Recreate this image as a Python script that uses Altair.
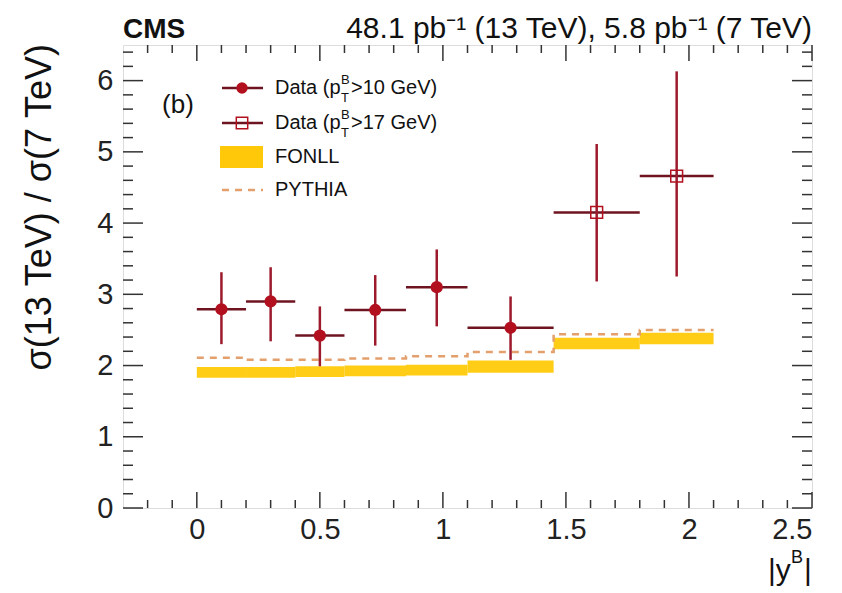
import altair as alt
import pandas as pd

# |y^B| bins and measured 13 TeV / 7 TeV cross-section ratios
bin_lo = [0.0, 0.2, 0.4, 0.6, 0.85, 1.1, 1.45, 1.8]
bin_hi = [0.2, 0.4, 0.6, 0.85, 1.1, 1.45, 1.8, 2.1]
ratio = [2.79, 2.90, 2.42, 2.78, 3.10, 2.53, 4.15, 4.66]
ratio_lo = [2.30, 2.34, 1.99, 2.28, 2.55, 2.08, 3.18, 3.25]
ratio_hi = [3.31, 3.38, 2.83, 3.27, 3.63, 2.97, 5.11, 6.13]
pt_cut = ["10", "10", "10", "10", "10", "10", "17", "17"]

# theory predictions per bin
fonll_lo = [1.83, 1.83, 1.84, 1.85, 1.86, 1.90, 2.23, 2.30]
fonll_hi = [1.98, 1.98, 1.99, 2.00, 2.01, 2.07, 2.39, 2.46]
pythia = [2.11, 2.08, 2.08, 2.10, 2.13, 2.19, 2.44, 2.50]

# axis ticks
x_major = [0, 0.5, 1, 1.5, 2, 2.5]
x_minor = [-0.2, -0.1, 0.1, 0.2, 0.3, 0.4, 0.6, 0.7, 0.8, 0.9, 1.1, 1.2, 1.3,
           1.4, 1.6, 1.7, 1.8, 1.9, 2.1, 2.2, 2.3, 2.4]
y_major = [0, 1, 2, 3, 4, 5, 6]
y_minor = [0.2, 0.4, 0.6, 0.8, 1.2, 1.4, 1.6, 1.8, 2.2, 2.4, 2.6, 2.8, 3.2,
           3.4, 3.6, 3.8, 4.2, 4.4, 4.6, 4.8, 5.2, 5.4, 5.6, 5.8, 6.2, 6.4]

W, H = 689, 463
FONT = "Liberation Sans"
RED = "#b3101f"
DARK = "#6e1420"
GOLD = "#ffc90a"
TAN = "#e3a06c"

bins = pd.DataFrame({
    "lo": bin_lo, "hi": bin_hi,
    "x": [(a + b) / 2 for a, b in zip(bin_lo, bin_hi)],
    "r": ratio, "rlo": ratio_lo, "rhi": ratio_hi, "cut": pt_cut,
    "flo": fonll_lo, "fhi": fonll_hi,
})
steps = pd.DataFrame({
    "x": [v for a, b in zip(bin_lo, bin_hi) for v in (a, b)],
    "y": [v for p in pythia for v in (p, p)],
})

xs = alt.Scale(domain=[-0.3, 2.5], nice=False, zero=False)
ys = alt.Scale(domain=[0, 6.5], nice=False, zero=False)

x_axis = alt.Axis(values=x_major, labelFontSize=29, labelFont=FONT, labelColor="#222",
                  ticks=False, domain=False, grid=False, title=None, labelPadding=7,
                  labelExpr="format(datum.value, '~g')")
y_axis = alt.Axis(values=y_major, labelFontSize=29, labelFont=FONT, labelColor="#222",
                  ticks=False, domain=False, grid=False, title=None, labelPadding=10,
                  format="d")


def X(field):
    return alt.X(field, scale=xs, axis=x_axis)


def Y(field):
    return alt.Y(field, scale=ys, axis=y_axis)


base = alt.Chart(bins)

fonll = base.mark_rect(color=GOLD, opacity=0.95).encode(
    x=X("lo:Q"), x2="hi:Q", y=Y("flo:Q"), y2="fhi:Q")
pyth = alt.Chart(steps).mark_line(color=TAN, strokeWidth=2.5, strokeDash=[7, 6]).encode(
    x=X("x:Q"), y=Y("y:Q"), order="x:Q")
hbar = base.mark_rule(color=DARK, strokeWidth=2.5).encode(
    x=X("lo:Q"), x2="hi:Q", y=Y("r:Q"))
vbar = base.mark_rule(color="#9c1a2c", strokeWidth=2.5).encode(
    x=X("x:Q"), y=Y("rlo:Q"), y2="rhi:Q")
dots = base.transform_filter("datum.cut == '10'").mark_point(
    shape="circle", filled=True, size=150, color=RED, opacity=1).encode(
    x=X("x:Q"), y=Y("r:Q"))
boxes = base.transform_filter("datum.cut == '17'").mark_point(
    shape="square", filled=False, size=140, color=RED, strokeWidth=1.5, opacity=1).encode(
    x=X("x:Q"), y=Y("r:Q"))


def tick_layer(vals, horizontal, length):
    df = pd.DataFrame({"v": vals})
    c = alt.Chart(df).mark_rule(color="#333", strokeWidth=1.5)
    if horizontal:  # ticks on bottom and top edges
        bottom = c.encode(x=X("v:Q"), y=alt.value(H), y2=alt.value(H - length))
        top = c.encode(x=X("v:Q"), y=alt.value(0), y2=alt.value(length))
        return [bottom, top]
    left = c.encode(y=Y("v:Q"), x=alt.value(0), x2=alt.value(length))
    right = c.encode(y=Y("v:Q"), x=alt.value(W), x2=alt.value(W - length))
    return [left, right]


ticks = (tick_layer(x_major, True, 16) + tick_layer(x_minor, True, 8)
         + tick_layer(y_major, False, 20) + tick_layer(y_minor, False, 10))

one = pd.DataFrame({"k": [0]})


def label(text, x, y, size, align="left", baseline="middle", weight="normal", angle=0):
    kw = dict(align=align, baseline=baseline, fontSize=size, font=FONT,
              fontWeight=weight, color="#111")
    if angle:
        kw["angle"] = angle
    return alt.Chart(one).mark_text(**kw).encode(
        x=alt.value(x), y=alt.value(y), text=alt.value(text))


texts = [
    label("CMS", 0, -7, 28, baseline="alphabetic", weight="bold"),
    label("48.1 pb\u207b\u00b9 (13 TeV), 5.8 pb\u207b\u00b9 (7 TeV)", W, -7, 30,
          align="right", baseline="alphabetic"),
    label("\u03c3(13 TeV) / \u03c3(7 TeV)", -83, -1, 36, align="right", angle=270),
    label("|y", 645, H + 63, 30),
    label("B", 668, H + 50, 18),
    label("|", 681, H + 63, 30),
    label("(b)", 55, 60, 26, align="center"),
]

# legend entries
leg = []
for row_y, cut in [(43, "10"), (78, "17")]:
    leg.append(alt.Chart(one).mark_rule(color=DARK, strokeWidth=2.5).encode(
        x=alt.value(99), x2=alt.value(140), y=alt.value(row_y)))
    leg.append(alt.Chart(one).mark_point(
        shape="circle" if cut == "10" else "square", filled=(cut == "10"),
        size=130, color=RED, strokeWidth=1.5, opacity=1).encode(
        x=alt.value(119), y=alt.value(row_y)))
    leg += [label("Data (p", 152, row_y, 20),
            label("B", 218, row_y - 8, 13),
            label("T", 218, row_y + 10, 13),
            label(">" + cut + " GeV)", 228, row_y, 20)]
leg.append(alt.Chart(one).mark_rect(color=GOLD).encode(
    x=alt.value(97), x2=alt.value(140), y=alt.value(101), y2=alt.value(123)))
leg.append(label("FONLL", 152, 112, 20))
leg.append(alt.Chart(one).mark_rule(color=TAN, strokeWidth=2.5, strokeDash=[7, 6]).encode(
    x=alt.value(99), x2=alt.value(140), y=alt.value(145)))
leg.append(label("PYTHIA", 152, 145, 20))

chart = alt.layer(fonll, pyth, hbar, vbar, dots, boxes, *ticks, *texts, *leg).properties(
    width=W, height=H,
    autosize=alt.AutoSizeParams(type="none"),
    padding={"left": 123, "top": 45, "right": 30, "bottom": 85},
).configure_view(stroke="#333", strokeWidth=2).configure(background="white")

chart.save("out.html", embed_options={"renderer": "svg", "actions": False})
